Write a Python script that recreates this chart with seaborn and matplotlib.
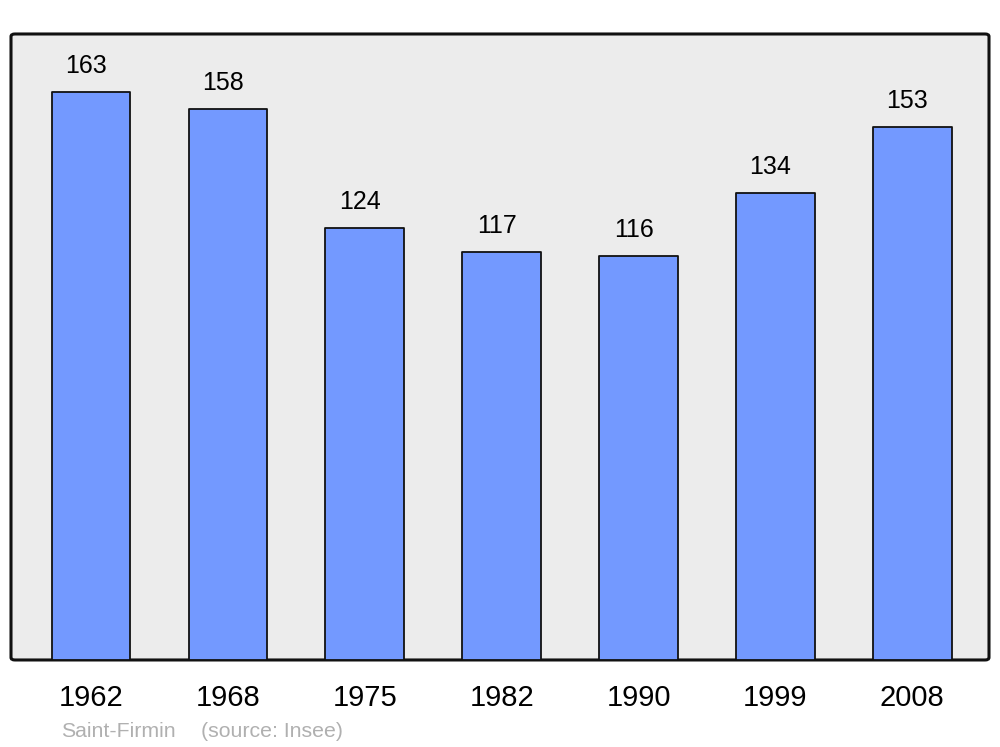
import numpy as np
import pandas as pd
import matplotlib.pyplot as plt
import seaborn as sns
from matplotlib.patches import FancyBboxPatch

# Données
annees = ['1962', '1968', '1975', '1982', '1990', '1999', '2008']
population = [163, 158, 124, 117, 116, 134, 153]

df = pd.DataFrame({'annee': annees, 'pop': population})

sns.set_theme(style='white')
plt.rcParams['font.family'] = ['Liberation Sans', 'DejaVu Sans']

fig = plt.figure(figsize=(10, 7.47), dpi=100)
ax = fig.add_axes([0.011, 0.1165, 0.978, 0.838])
ax.set_facecolor('none')

# Fond arrondi
fond = FancyBboxPatch((0, 0), 1, 1, boxstyle='round,pad=0,rounding_size=0.004',
                      transform=ax.transAxes, facecolor='#ececec',
                      edgecolor='#111111', linewidth=2.2, zorder=0, clip_on=False)
ax.add_patch(fond)

sns.barplot(data=df, x='annee', y='pop', color='#7399ff', width=0.575,
            edgecolor='#111111', linewidth=1.3, saturation=1, ax=ax, zorder=2)

for p in ax.patches[1:]:
    p.set_joinstyle('round')

# Étiquettes des valeurs
for i, v in enumerate(population):
    ax.annotate(str(v), (i, v), xytext=(-3.6, 10), textcoords='offset points',
                ha='center', va='bottom', fontsize=18, color='black')

ax.set_xlim(-0.585, 6.56)
ax.set_ylim(0, 179.6)
ax.set_xlabel('')
ax.set_ylabel('')
ax.set_yticks([])
ax.tick_params(axis='x', length=0, labelsize=21, pad=17, colors='black')
for s in ax.spines.values():
    s.set_visible(False)

fig.text(0.061, 0.014, 'Saint-Firmin', fontsize=15.3,
         color='#b0b0b0', ha='left', va='baseline')
fig.text(0.201, 0.014, '(source: Insee)', fontsize=15.3,
         color='#b0b0b0', ha='left', va='baseline')

fig.savefig('out.png', dpi=100)
